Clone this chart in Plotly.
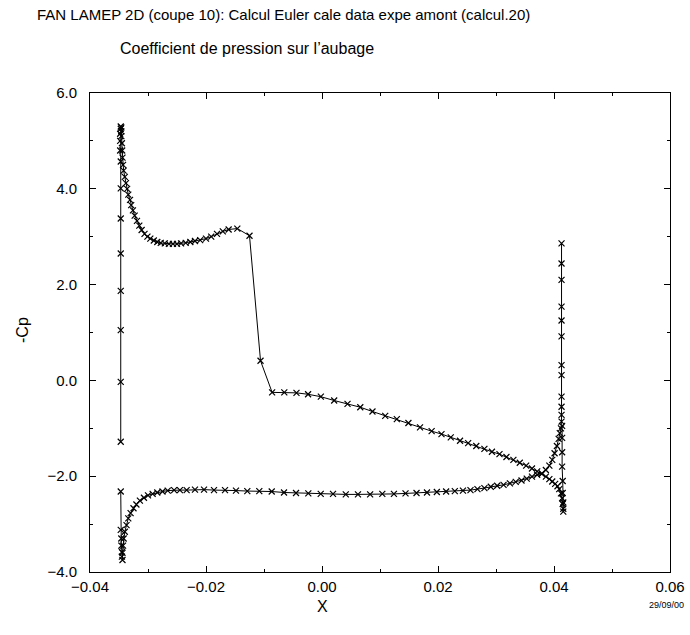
import plotly.graph_objects as go

# Upper branch (leading edge vertical, suction side, trailing edge)
upper_x = [-0.0347, -0.0347, -0.0347, -0.0347, -0.0347, -0.0347, -0.0347, -0.0347,
           -0.0348, -0.0348, -0.0348, -0.0347, -0.0347, -0.0346, -0.0346, -0.0346,
           -0.0345, -0.03445, -0.0344, -0.0343, -0.0342, -0.0340, -0.0338, -0.0336,
           -0.0334, -0.0331, -0.0329, -0.0326, -0.0323, -0.0319, -0.0315, -0.0311,
           -0.0306, -0.0301, -0.0296, -0.0290, -0.0284, -0.0278, -0.0271, -0.0264,
           -0.0257, -0.0250, -0.0243, -0.0235, -0.0227, -0.0219, -0.0210, -0.0200,
           -0.0191, -0.0181, -0.0171, -0.0161, -0.0146, -0.0125, -0.0106, -0.0086,
           -0.0065, -0.0044, -0.0024, -0.0002, 0.0021, 0.0044, 0.0066, 0.0087,
           0.0109, 0.0129, 0.0149, 0.0169, 0.0189, 0.0206, 0.0222, 0.0238,
           0.0252, 0.0266, 0.0280, 0.0293, 0.0306, 0.0318, 0.0330, 0.0341,
           0.0352, 0.0362, 0.0371, 0.0379, 0.0386, 0.0392, 0.0397, 0.0402,
           0.0406, 0.0409, 0.0412, 0.0414, 0.0415, 0.0416, 0.0416,
           0.0416, 0.0415, 0.0415, 0.0414, 0.0414, 0.0414, 0.0414]
upper_cp = [-1.28, -0.03, 1.05, 1.87, 2.65, 3.38, 4.01, 4.57,
            4.80, 5.00, 5.15, 5.25, 5.30, 5.28, 5.20, 5.10,
            4.95, 4.80, 4.65, 4.50, 4.38, 4.25, 4.12, 4.00,
            3.88, 3.77, 3.66, 3.55, 3.44, 3.33, 3.23, 3.14,
            3.06, 3.00, 2.96, 2.92, 2.89, 2.87, 2.86, 2.85,
            2.85, 2.85, 2.86, 2.87, 2.89, 2.91, 2.93, 2.96,
            3.00, 3.06, 3.11, 3.15, 3.17, 3.02, 0.41, -0.25,
            -0.25, -0.26, -0.29, -0.34, -0.42, -0.49, -0.56, -0.65,
            -0.74, -0.81, -0.89, -0.98, -1.06, -1.12, -1.19, -1.26,
            -1.31, -1.37, -1.43, -1.49, -1.54, -1.60, -1.66, -1.72,
            -1.78, -1.84, -1.90, -1.95, -2.01, -2.06, -2.11, -2.16,
            -2.21, -2.27, -2.36, -2.46, -2.58, -2.68, -2.74,
            -2.55, -2.35, -2.10, -1.80, -1.50, -1.20, -0.95]

# Lower branch (leading edge, pressure side, trailing edge spike)
lower_x = [-0.0347, -0.0347, -0.0346, -0.0346, -0.0345, -0.0345, -0.0344, -0.0344,
           -0.0343, -0.0342, -0.0340, -0.0337, -0.0334, -0.0330, -0.0325, -0.0320,
           -0.0314, -0.0307, -0.0300, -0.0292, -0.0284, -0.0275, -0.0266, -0.0255,
           -0.0245, -0.02334, -0.0219, -0.02034, -0.01862, -0.01672, -0.01483, -0.01288,
           -0.01081, -0.00867, -0.00655, -0.00448, -0.00236, -0.00022, 0.0019, 0.0041,
           0.0062, 0.0083, 0.0104, 0.0124, 0.0144, 0.0163, 0.0181, 0.0198,
           0.0214, 0.0229, 0.0243, 0.0256, 0.0268, 0.0280, 0.0291, 0.0302,
           0.0313, 0.0324, 0.0334, 0.0344, 0.0353, 0.0362, 0.0371, 0.0379,
           0.0386, 0.0392, 0.0397, 0.0401, 0.0405, 0.0408, 0.0410, 0.0412,
           0.0413, 0.0413, 0.0413, 0.0413, 0.0413, 0.0413, 0.0413, 0.0413,
           0.0413, 0.0413, 0.0413, 0.0413]
lower_cp = [-2.32, -3.12, -3.30, -3.45, -3.58, -3.68, -3.75, -3.60,
            -3.45, -3.30, -3.16, -3.02, -2.88, -2.77, -2.67, -2.59,
            -2.51, -2.45, -2.40, -2.37, -2.34, -2.32, -2.30, -2.29,
            -2.29, -2.29, -2.28, -2.28, -2.29, -2.29, -2.30, -2.31,
            -2.31, -2.32, -2.34, -2.35, -2.36, -2.37, -2.37, -2.38,
            -2.38, -2.38, -2.37, -2.37, -2.36, -2.35, -2.34, -2.33,
            -2.32, -2.31, -2.30, -2.29, -2.27, -2.25, -2.22, -2.20,
            -2.18, -2.15, -2.12, -2.09, -2.05, -2.01, -1.97, -1.94,
            -1.87, -1.78, -1.66, -1.52, -1.37, -1.22, -1.10, -1.00,
            -0.86, -0.72, -0.55, -0.34, 0.11, 0.32, 0.92, 1.25,
            1.54, 2.10, 2.44, 2.86]

x_ticks = [-0.04, -0.02, 0.00, 0.02, 0.04, 0.06]
y_ticks = [-4.0, -2.0, 0.0, 2.0, 4.0, 6.0]

FONT = "Liberation Sans, Arial, sans-serif"

fig = go.Figure()
for xs, ys in [(upper_x, upper_cp), (lower_x, lower_cp)]:
    fig.add_trace(go.Scatter(
        x=xs, y=ys, mode="lines+markers",
        line=dict(color="black", width=1),
        marker=dict(symbol="x-thin", size=6, line=dict(color="black", width=1.2)),
        showlegend=False, hoverinfo="x+y"))

axis_common = dict(
    showgrid=False, zeroline=False, showline=True, linecolor="black", linewidth=1,
    mirror="ticks", ticks="inside", ticklen=6, tickcolor="black", tickwidth=1,
    tickfont=dict(family=FONT, size=15, color="black"), automargin=False,
)
fig.update_xaxes(range=[-0.04, 0.06], tickvals=x_ticks,
                 ticktext=[f"{v:.2f}".replace("-", "\u2212") for v in x_ticks],
                 minor=dict(dtick=0.01, ticks="inside", ticklen=3, tickcolor="black"),
                 ticklabelstandoff=1, **axis_common)
fig.update_yaxes(range=[-4.0, 6.0], tickvals=y_ticks,
                 ticktext=[f"{v:.1f}".replace("-", "\u2212") for v in y_ticks],
                 minor=dict(dtick=1.0, ticks="inside", ticklen=3, tickcolor="black"),
                 ticklabelstandoff=9, **axis_common)

fig.update_layout(
    width=690, height=635,
    margin=dict(l=90, r=20, t=93, b=63),
    plot_bgcolor="white", paper_bgcolor="white",
    font=dict(family=FONT, color="black"),
    annotations=[
        dict(text="FAN LAMEP 2D (coupe 10): Calcul Euler cale data expe amont (calcul.20)",
             xref="paper", yref="paper", x=(35 - 90) / 580, y=(572 - 15) / 479,
             xanchor="left", yanchor="middle", showarrow=False,
             font=dict(family=FONT, size=15, color="black")),
        dict(text="Coefficient de pression sur l\u2019aubage",
             xref="paper", yref="paper", x=(118 - 90) / 580, y=(572 - 48) / 479,
             xanchor="left", yanchor="middle", showarrow=False,
             font=dict(family=FONT, size=16, color="black")),
        dict(text="X", xref="x", yref="paper", x=0.0, y=(572 - 606) / 479,
             xanchor="center", yanchor="middle", showarrow=False,
             font=dict(family=FONT, size=16, color="black")),
        dict(text="-Cp", xref="paper", yref="paper", x=(22 - 90) / 580, y=(572 - 330) / 479,
             xanchor="center", yanchor="middle", showarrow=False, textangle=-90,
             font=dict(family=FONT, size=16, color="black")),
        dict(text="29/09/00", xref="paper", yref="paper", x=(686 - 90) / 580, y=(572 - 605) / 479,
             xanchor="right", yanchor="middle", showarrow=False,
             font=dict(family=FONT, size=9, color="black")),
    ],
)

post = (
    "document.documentElement.style.margin='0';"
    "document.documentElement.style.overflow='hidden';"
    "document.body.style.margin='0';"
    "document.body.style.overflow='hidden';"
    "var gd=document.getElementById('{plot_id}');"
    "Plotly.relayout(gd,{width:690,height:635});"
)
fig.write_html("out.html", config={"displayModeBar": False, "responsive": False},
               post_script=post)
